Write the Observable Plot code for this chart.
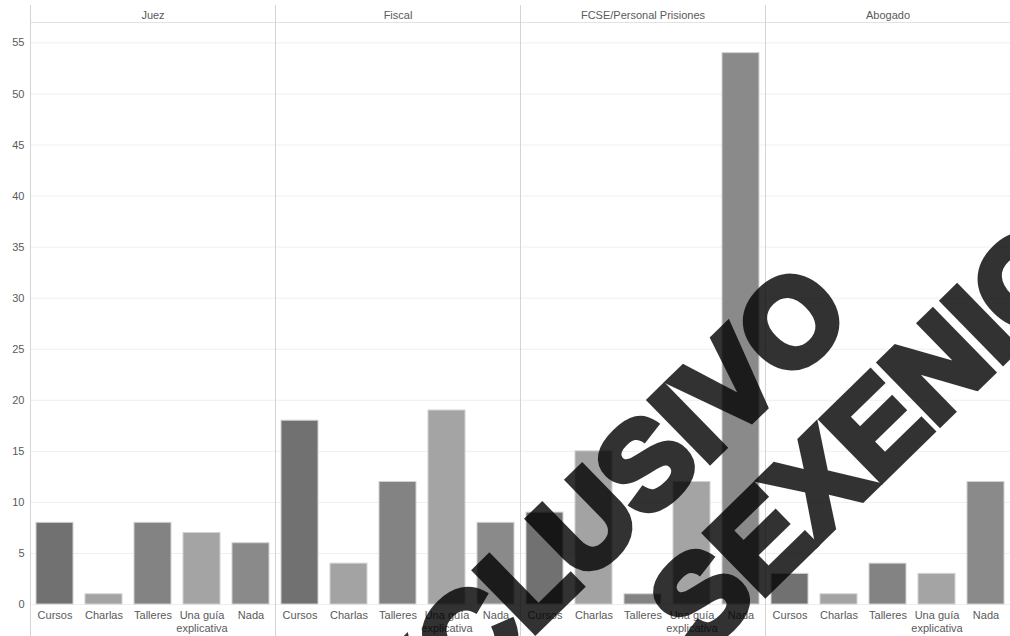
<!DOCTYPE html>
<html>
<head>
<meta charset="utf-8">
<script src="https://cdn.jsdelivr.net/npm/d3@7"></script>
<script src="https://cdn.jsdelivr.net/npm/@observablehq/plot@0.6"></script>
<style>
  html, body { margin: 0; padding: 0; background: #fff; }
  #chart svg { display: block; }
</style>
</head>
<body>
<div id="chart"></div>
<script>
// Facets (profession) and answer categories
const roles = ["Juez", "Fiscal", "FCSE/Personal Prisiones", "Abogado"];
const categories = ["Cursos", "Charlas", "Talleres", "Una guía explicativa", "Nada"];
const tickLabels = ["Cursos", "Charlas", "Talleres", "Una guía\nexplicativa", "Nada"];

// Counts per category, one array per profession
const juez = [8, 1, 8, 7, 6];
const fiscal = [18, 4, 12, 19, 8];
const fcse = [9, 15, 1, 12, 54];
const abogado = [3, 1, 4, 3, 12];

const yTicks = [0, 5, 10, 15, 20, 25, 30, 35, 40, 45, 50, 55];
const barColors = ["#717171", "#a3a3a3", "#838383", "#a4a4a4", "#8a8a8a"];
const watermark = ["EXCLUSIVO", "SEXENIO"];

const series = [juez, fiscal, fcse, abogado];
const rows = roles.flatMap((role, i) =>
  series[i].map((value, j) => ({role, cat: categories[j], value}))
);

const chart = Plot.plot({
  width: 1010,
  height: 636,
  marginTop: 22,
  marginBottom: 32,
  marginLeft: 30,
  marginRight: 0,
  style: {fontFamily: "'Liberation Sans', Arial, sans-serif", fontSize: "11px", color: "#5a5a5a", background: "#fff"},
  fx: {domain: roles, padding: 0, label: null},
  x: {domain: categories, paddingInner: 0.25, paddingOuter: 0.125, label: null},
  y: {domain: [0, 57], label: null},
  color: {domain: categories, range: barColors},
  marks: [
    Plot.gridY(yTicks, {stroke: "#efefef", strokeOpacity: 1}),
    Plot.frame({anchor: "top", stroke: "#e3e3e3"}),
    Plot.frame({anchor: "left", stroke: "#d4d4d4", insetTop: -17, insetBottom: -32}),
    Plot.barY(rows, {fx: "role", x: "cat", y: "value", fill: "cat", stroke: "#d2d2d2", strokeWidth: 1}),
    Plot.axisY(yTicks, {tickSize: 0, tickPadding: 6, label: null}),
    Plot.axisX({tickSize: 0, tickPadding: 5, lineHeight: 1.18, label: null,
      tickFormat: d => tickLabels[categories.indexOf(d)]}),
    Plot.axisFx({anchor: "top", tickSize: 0, tickPadding: 4, label: null})
  ]
});

document.getElementById("chart").append(chart);

// Diagonal overlay text, semi-transparent black
const svg = d3.select(chart);
const overlay = [
  {text: watermark[0], x: 573, y: 535},
  {text: watermark[1], x: 866, y: 436}
];
svg.append("g")
  .attr("opacity", 0.8)
  .selectAll("text")
  .data(overlay)
  .join("text")
  .attr("transform", d => `translate(${d.x},${d.y}) rotate(-44.3)`)
  .attr("text-anchor", "middle")
  .attr("dominant-baseline", "central")
  .attr("font-family", "'Liberation Sans', Arial, sans-serif")
  .attr("font-weight", "bold")
  .attr("font-size", 122)
  .attr("fill", "#000")
  .attr("stroke", "#000")
  .attr("stroke-width", 8)
  .attr("stroke-linejoin", "miter")
  .text(d => d.text);
</script>
</body>
</html>
